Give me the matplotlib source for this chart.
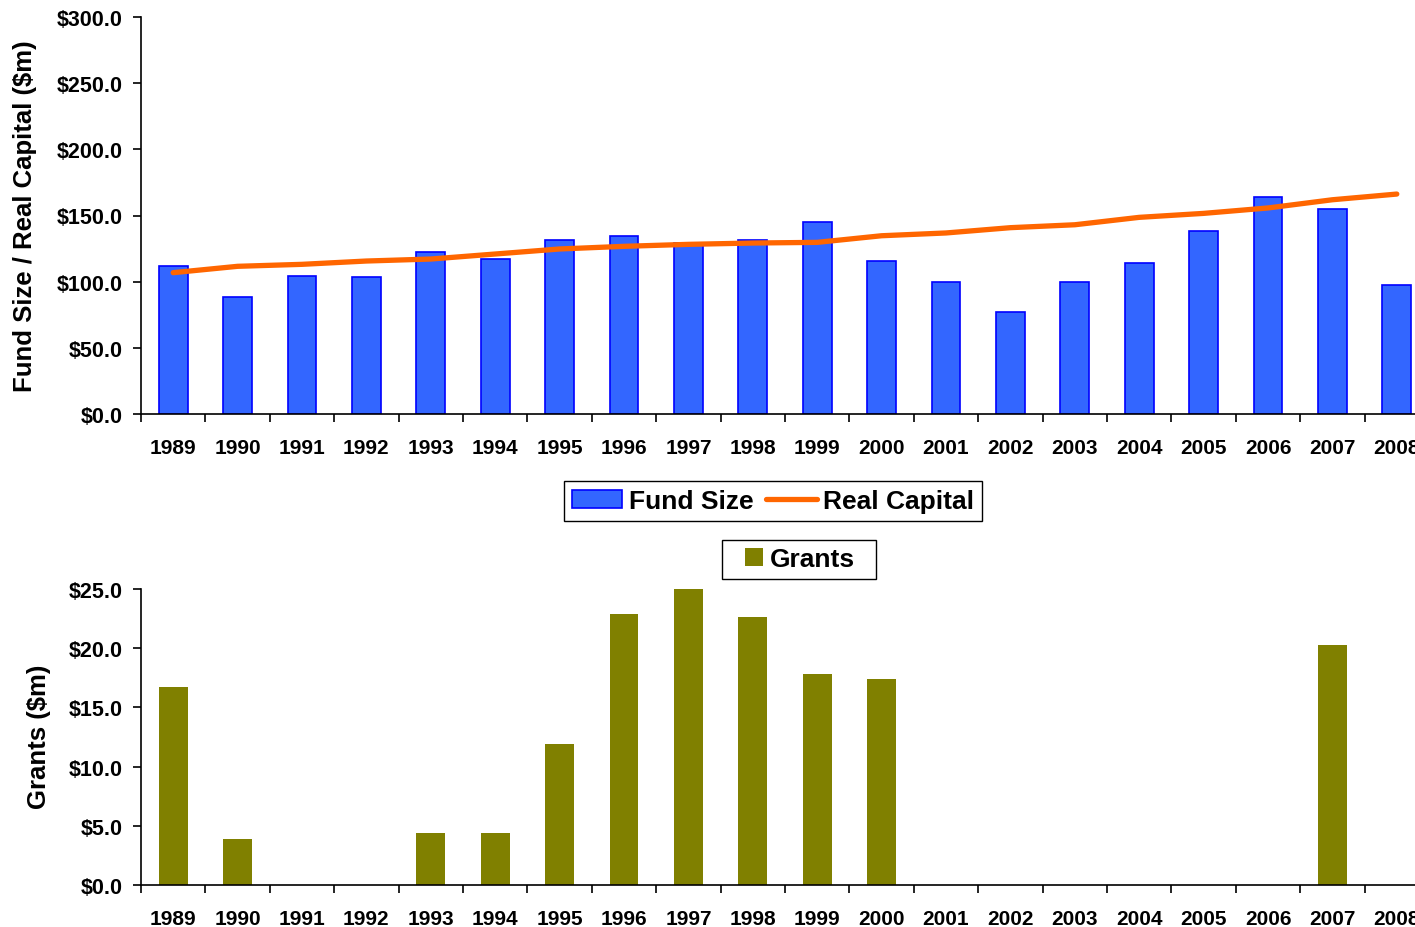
import numpy as np
import matplotlib.pyplot as plt
from matplotlib.patches import Rectangle
from matplotlib.ticker import FuncFormatter

plt.rcParams['font.family'] = ['Liberation Sans', 'DejaVu Sans']
plt.rcParams['font.weight'] = 'bold'

years = [str(y) for y in range(1989, 2009)]
fund_size = [112.0, 88.6, 104.5, 103.5, 122.2, 117.1, 131.7, 134.3, 129.0, 131.7,
             145.3, 115.8, 99.5, 77.3, 99.5, 114.3, 138.0, 163.7, 155.2, 97.2]
real_capital = [106.8, 111.6, 113.1, 115.6, 117.1, 120.9, 124.7, 126.7, 128.2, 129.2,
                129.7, 134.7, 136.8, 140.8, 143.0, 148.6, 151.6, 155.7, 161.9, 166.2]
grants = [16.7, 3.9, 0.0, 0.0, 4.4, 4.4, 11.9, 22.9, 25.2, 22.6,
          17.8, 17.4, 0.0, 0.0, 0.0, 0.0, 0.0, 0.0, 20.3, 0.0]

W, H = 1415, 928
fig = plt.figure(figsize=(W / 100, H / 100), dpi=100)

# plot area runs a bit past the right edge of the figure
x0 = 141 / W
xw = (1429 - 141) / W
ax1 = fig.add_axes([x0, 1 - 415 / H, xw, (415 - 18) / H])
ax2 = fig.add_axes([x0, 1 - 886 / H, xw, (886 - 590) / H])

x = np.arange(len(years))
money = FuncFormatter(lambda v, p: f"${v:.1f}")


def style(ax, ymax, step):
    ax.set_xlim(-0.5, len(years) - 0.5)
    ax.set_ylim(0, ymax)
    ax.set_yticks(np.arange(0, ymax + step / 2, step))
    ax.yaxis.set_major_formatter(money)
    ax.set_xticks(x)
    ax.set_xticklabels(years)
    ax.set_xticks(np.arange(-0.5, len(years), 1.0), minor=True)
    ax.tick_params(axis='x', which='major', length=0, pad=17, labelsize=15)
    ax.tick_params(axis='x', which='minor', length=6, width=1.2, direction='out')
    ax.tick_params(axis='y', length=6, width=1.2, labelsize=15.5, pad=7)
    for s in ['top', 'right']:
        ax.spines[s].set_visible(False)
    for s in ['left', 'bottom']:
        ax.spines[s].set_linewidth(1.2)
    for lab in ax.get_xticklabels() + ax.get_yticklabels():
        lab.set_fontweight('bold')


bars = ax1.bar(x, fund_size, width=0.45, color='#3366FF', edgecolor='#0000FF',
               linewidth=1.2, label='Fund Size')
line, = ax1.plot(x, real_capital, color='#FF6600', linewidth=3.8,
                 solid_capstyle='round', label='Real Capital')
style(ax1, 300, 50)
ax1.set_ylabel('Fund Size / Real Capital ($m)', fontsize=18.5, fontweight='bold')
ax1.yaxis.set_label_coords(-0.0807, 0.501)

gbars = ax2.bar(x, grants, width=0.45, color='#808000', label='Grants')
style(ax2, 25, 5)
ax2.set_ylabel('Grants ($m)', fontsize=18.5, fontweight='bold')
ax2.yaxis.set_label_coords(-0.0699, 0.505)

leg1 = fig.legend(handles=[bars, line], loc='center', bbox_to_anchor=(773 / W, 1 - 502 / H),
                  ncol=2, fancybox=False, edgecolor='black', framealpha=1,
                  prop={'size': 19, 'weight': 'bold'}, handlelength=1.9,
                  handletextpad=0.25, columnspacing=0.5, borderpad=0.3)
leg1.get_frame().set_linewidth(1.0)

# grants legend: entry without frame, box drawn separately for wider side padding
leg2 = fig.legend(handles=[gbars], loc='center', bbox_to_anchor=(800 / W, 1 - 560 / H),
                  frameon=False, prop={'size': 19, 'weight': 'bold'},
                  handlelength=0.7, handleheight=0.7, handletextpad=0.25,
                  borderpad=0.3)
fig.add_artist(Rectangle((722 / W, 1 - 580 / H), 154 / W, 39 / H,
                         transform=fig.transFigure, facecolor='none',
                         edgecolor='black', linewidth=1.0))

fig.savefig('out.png', dpi=100)
